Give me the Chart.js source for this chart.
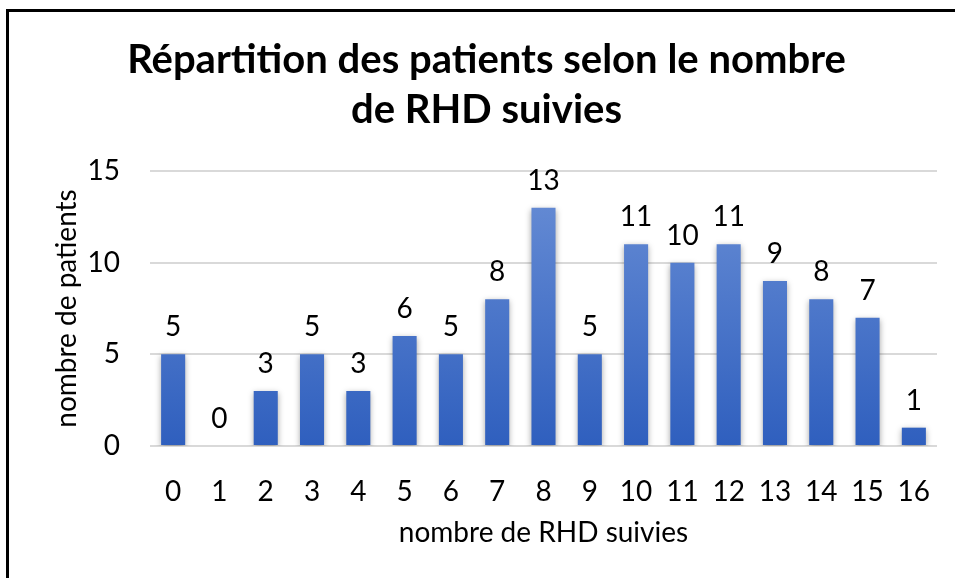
<!DOCTYPE html>
<html><head><meta charset="utf-8">
<script src="https://cdn.jsdelivr.net/npm/chart.js@4/dist/chart.umd.min.js"></script>
<style>
html,body{margin:0;padding:0;background:#fff;overflow:hidden;width:955px;height:578px;}
#frame{position:absolute;left:6px;top:9px;width:1000px;height:700px;border:3px solid #000;box-sizing:border-box;}
#c{position:absolute;left:0;top:0;}
</style></head>
<body>
<div id="frame"></div>
<canvas id="c" width="955" height="578"></canvas>
<script>
const categories = ["0","1","2","3","4","5","6","7","8","9","10","11","12","13","14","15","16"];
const patients = [5,0,3,5,3,6,5,8,13,5,11,10,11,9,8,7,1];
const titleLines = ["Répartition des patients selon le nombre","de RHD suivies"];
const xTitle = "nombre de RHD suivies";
const yTitle = "nombre de patients";

const FONT = "Lato, 'Open Sans', sans-serif";
const AX = 28;

const labelPlugin = {
  id: 'barLabels',
  afterDatasetsDraw(chart){
    const ctx = chart.ctx;
    const meta = chart.getDatasetMeta(0);
    ctx.save();
    ctx.font = AX + "px " + FONT;
    ctx.fillStyle = "#000";
    ctx.textAlign = "center";
    ctx.textBaseline = "alphabetic";
    meta.data.forEach((bar,i)=>{
      ctx.fillText(String(patients[i]), bar.x, bar.y - 18);
    });
    ctx.restore();
  }
};

const shadowPlugin = {
  id: 'barShadow',
  beforeDatasetsDraw(chart){
    const ctx = chart.ctx;
    ctx.save();
    ctx.shadowColor = 'rgba(0,0,0,0.35)';
    ctx.shadowBlur = 6;
    ctx.shadowOffsetX = 0;
    ctx.shadowOffsetY = 2;
  },
  afterDatasetsDraw(chart){
    chart.ctx.restore();
  }
};

new Chart(document.getElementById('c'), {
  type: 'bar',
  data: {
    labels: categories,
    datasets: [{
      data: patients,
      backgroundColor(context){
        const ca = context.chart.chartArea;
        if(!ca) return '#4472c4';
        const g = context.chart.ctx.createLinearGradient(0, ca.top, 0, ca.bottom);
        g.addColorStop(0, '#6a8fd6');
        g.addColorStop(1, '#2f5fbe');
        return g;
      },
      borderWidth: 0,
      barPercentage: 0.52,
      categoryPercentage: 1.0
    }]
  },
  options: {
    responsive: false,
    animation: false,
    devicePixelRatio: 1,
    layout: { padding: { left: 36, right: 18, top: 10, bottom: 28 } },
    plugins: {
      legend: { display: false },
      tooltip: { enabled: false },
      title: {
        display: true,
        text: titleLines,
        color: '#000',
        font: { family: FONT, size: 40, weight: 'bold', lineHeight: 1.25 },
        padding: { top: 25, bottom: 36 }
      }
    },
    scales: {
      x: {
        grid: { display: false },
        border: { display: false },
        ticks: { color: '#000', font: { family: FONT, size: AX }, padding: 21, maxRotation: 0, autoSkip: false },
        title: { display: true, text: xTitle, color: '#000', font: { family: FONT, size: AX }, padding: { top: 0, bottom: 0 } },
        afterFit(s){ s.height = 104; }
      },
      y: {
        min: 0, max: 15,
        ticks: { stepSize: 5, color: '#000', font: { family: FONT, size: AX }, padding: 30 },
        grid: { color: '#d9d9d9', lineWidth: 2, drawTicks: false },
        border: { display: false },
        title: { display: true, text: yTitle, color: '#000', font: { family: FONT, size: AX }, padding: { top: 14, bottom: 0 } },
        afterFit(s){ s.width = 114; }
      }
    }
  },
  plugins: [shadowPlugin, labelPlugin]
});
</script>
</body></html>
